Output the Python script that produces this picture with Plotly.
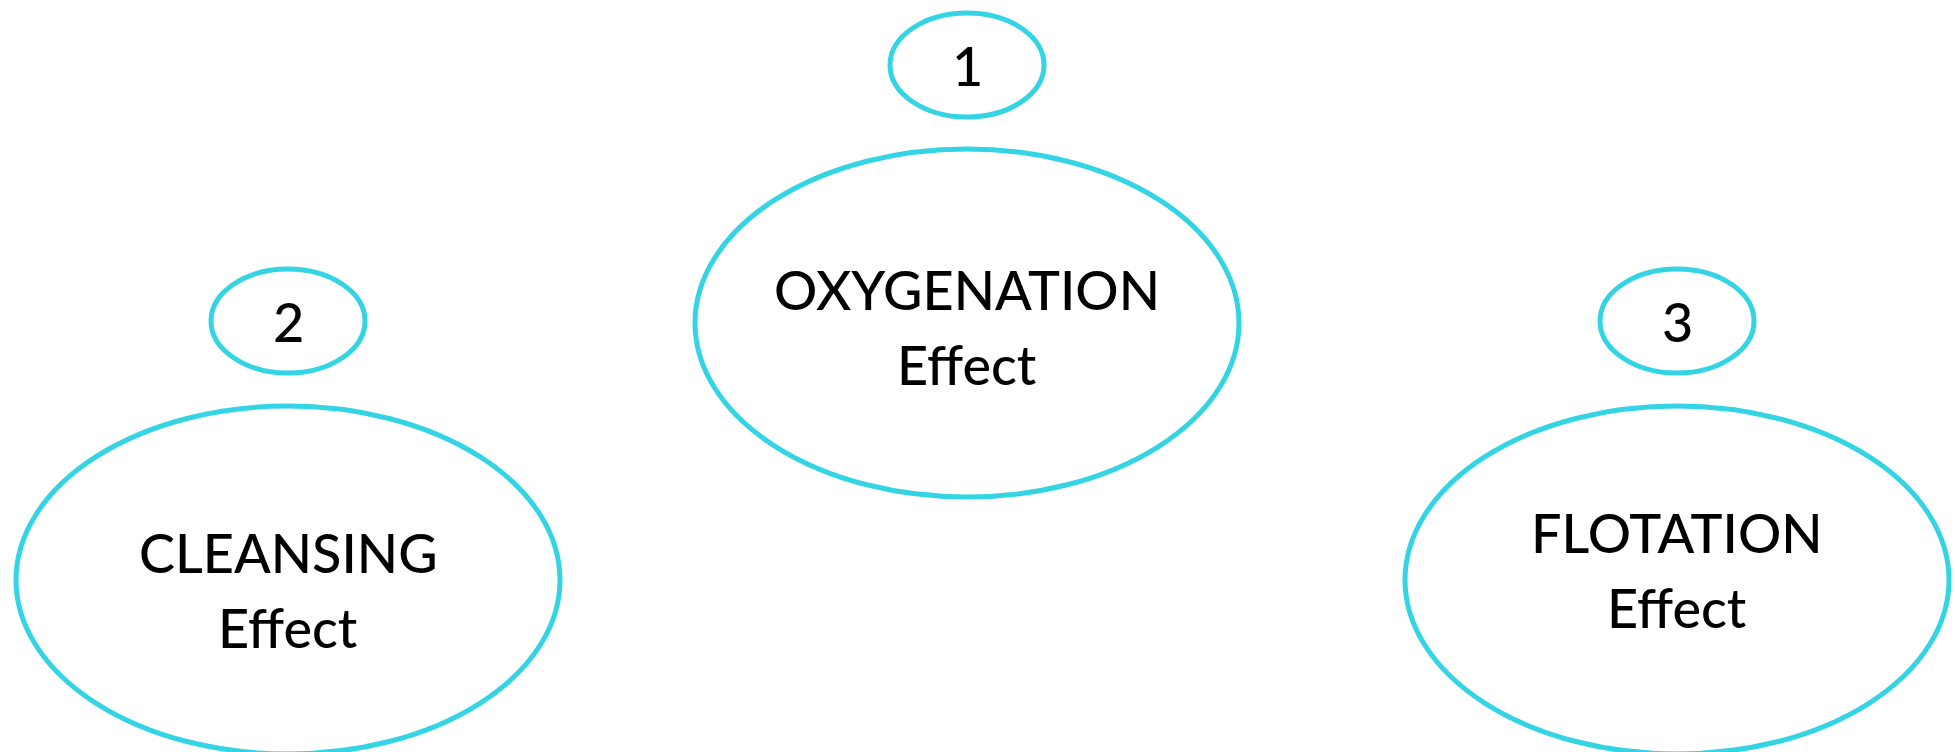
import plotly.graph_objects as go

# Diagram content
node_names = ["OXYGENATION", "CLEANSING", "FLOTATION"]
node_sub = ["Effect", "Effect", "Effect"]
node_numbers = ["1", "2", "3"]

# Node layout (pixel coordinates in a 1955 x 752 canvas, y downwards)
node_x = [967, 288, 1677]
badge_y = [65, 321, 321]
main_y = [323, 580, 580]
line1_y = [289, 552, 532]
line2_y = [364, 627, 607]

W, H = 1955, 752
badge_rx, badge_ry = 77, 52
main_rx, main_ry = 272, 174
ring_color = "#33D4E3"
ring_width = 5
font_family = "Lato"
font_size = 54
font_weight = 500

fig = go.Figure()
# invisible trace so the axes exist
fig.add_trace(go.Scatter(x=[0, W], y=[0, H], mode="markers",
                         marker=dict(opacity=0), hoverinfo="skip", showlegend=False))

shapes = []
annotations = []
txt_font = dict(family=font_family, size=font_size, color="black", weight=font_weight)
for i in range(len(node_names)):
    cx = node_x[i]
    shapes.append(dict(type="circle", xref="x", yref="y",
                       x0=cx - badge_rx, x1=cx + badge_rx,
                       y0=badge_y[i] - badge_ry, y1=badge_y[i] + badge_ry,
                       line=dict(color=ring_color, width=ring_width),
                       fillcolor="rgba(0,0,0,0)"))
    shapes.append(dict(type="circle", xref="x", yref="y",
                       x0=cx - main_rx, x1=cx + main_rx,
                       y0=main_y[i] - main_ry, y1=main_y[i] + main_ry,
                       line=dict(color=ring_color, width=ring_width),
                       fillcolor="rgba(0,0,0,0)"))
    annotations.append(dict(x=cx, y=badge_y[i], xref="x", yref="y",
                            text=node_numbers[i], showarrow=False,
                            xanchor="center", yanchor="middle", font=txt_font))
    annotations.append(dict(x=cx, y=line1_y[i], xref="x", yref="y",
                            text=node_names[i], showarrow=False,
                            xanchor="center", yanchor="middle", font=txt_font))
    annotations.append(dict(x=cx, y=line2_y[i], xref="x", yref="y",
                            text=node_sub[i], showarrow=False,
                            xanchor="center", yanchor="middle", font=txt_font))

fig.update_layout(
    width=W, height=H,
    margin=dict(l=0, r=0, t=0, b=0),
    paper_bgcolor="white", plot_bgcolor="white",
    xaxis=dict(range=[0, W], visible=False, fixedrange=True),
    yaxis=dict(range=[H, 0], visible=False, fixedrange=True),
    shapes=shapes, annotations=annotations,
    showlegend=False,
)

fig.write_html("out.html", config={"displayModeBar": False},
               post_script="document.body.style.margin='0';")
